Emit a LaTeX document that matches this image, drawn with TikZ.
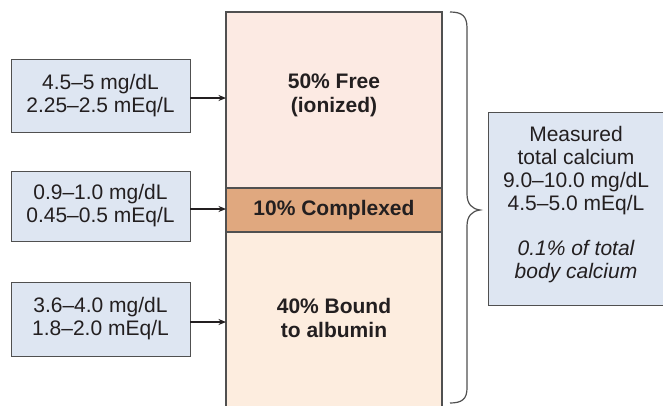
\documentclass[tikz,border=0pt]{standalone}
\usepackage{fontspec}
\setmainfont{Liberation Sans}
\usetikzlibrary{arrows.meta}
\definecolor{boxblue}{HTML}{DEE6F2}
\definecolor{freefill}{HTML}{FCEAE3}
\definecolor{boundfill}{HTML}{FDEDDF}
\definecolor{cplxfill}{HTML}{E0A87F}
\definecolor{edge}{HTML}{505050}
\definecolor{ink}{HTML}{231F20}
\tikzset{
  valbox/.style={draw=edge, line width=0.9pt, fill=boxblue, minimum width=179pt, text=ink, align=center, font=\fontsize{21}{23}\selectfont},
  segment/.style={minimum width=216pt, inner sep=0pt, outer sep=0pt},
  seglabel/.style={text=ink, align=center, font=\fontsize{21}{24}\selectfont\bfseries},
  arr/.style={draw=ink, line width=1.4pt, -{Stealth[length=7.5pt,width=6pt]}},
  bracestyle/.style={draw=edge, line width=1.2pt}
}
\begin{document}
\begin{tikzpicture}[x=1pt,y=-1pt]
\clip (0,0) rectangle (663,405);
\fill[white] (0,0) rectangle (663,405);
% column segments
\node[segment, fill=freefill, minimum height=176pt] (free) at (334,100) {};
\node[segment, fill=boundfill, minimum height=178pt] (bound) at (334,321) {};
\node[segment, fill=cplxfill, draw=edge, line width=1.2pt, minimum height=44pt] (cplx) at (334,210) {};
\draw[draw=edge, line width=1.5pt] (bound.south west) -- (free.north west) -- (free.north east) -- (bound.south east);
% segment labels
\node[seglabel] (freetxt) at (334,95.5) {50\% Free\\(ionized)};
\node[seglabel] (cplxtxt) at (334,210) {10\% Complexed};
\node[seglabel] (boundtxt) at (334,318) {40\% Bound\\to albumin};
% value boxes
\node[valbox, minimum height=73pt] (b1) at (100.5,95.5) {4.5–5 mg/dL\\2.25–2.5 mEq/L};
\node[valbox, minimum height=70pt] (b2) at (100.5,206) {0.9–1.0 mg/dL\\0.45–0.5 mEq/L};
\node[valbox, minimum height=74pt] (b3) at (100.5,319) {3.6–4.0 mg/dL\\1.8–2.0 mEq/L};
% arrows
\draw[arr] ([yshift=-2.5pt]b1.east) -- ([yshift=-2.5pt]b1.east -| free.west);
\draw[arr] ([yshift=-3pt]b2.east) -- ([yshift=-3pt]b2.east -| cplx.west);
\draw[arr] ([yshift=-3pt]b3.east) -- ([yshift=-3pt]b3.east -| bound.west);
% brace
\coordinate (btop) at (450,12);
\coordinate (btip) at (480,210);
\coordinate (bbot) at (450,403);
\draw[bracestyle] (btop) .. controls (462,12) and (467,16) .. (467,28) -- (467,194)
  .. controls (467,204) and (472,209) .. (btip)
  .. controls (472,211) and (467,216) .. (467,226) -- (467,388)
  .. controls (467,399) and (462,403) .. (bbot);
% total box
\node[valbox, minimum width=178pt, minimum height=193pt] (total) at (577,208.5) {};
\node[text=ink, align=center, font=\fontsize{21}{23}\selectfont] (totaltxt) at (576,205)
  {Measured\\total calcium\\9.0–10.0 mg/dL\\4.5–5.0 mEq/L\\[22pt]\itshape 0.1\% of total\\\itshape body calcium};
\end{tikzpicture}
\end{document}
